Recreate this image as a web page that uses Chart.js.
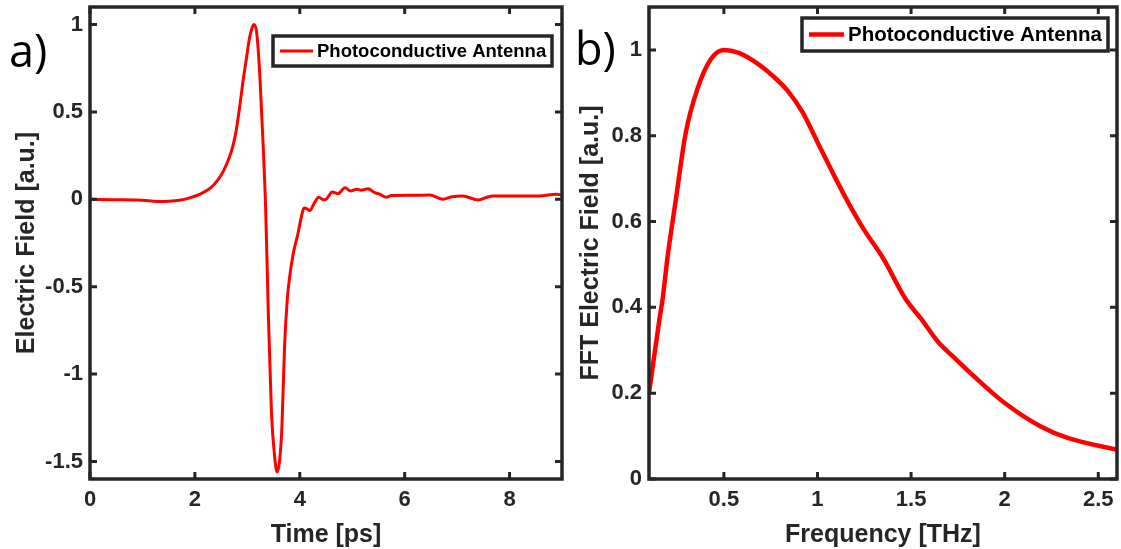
<!DOCTYPE html>
<html>
<head>
<meta charset="utf-8">
<script src="https://cdn.jsdelivr.net/npm/chart.js@4.4.1/dist/chart.umd.min.js"></script>
<style>
  body { margin: 0; background: #fff; width: 1121px; height: 549px; overflow: hidden; position: relative; }
  .panel { position: absolute; top: 0; height: 549px; }
  .tag { position: absolute; font-family: 'Open Sans', sans-serif; font-size: 45px; line-height: 1; color: #000; }
</style>
</head>
<body>
<div class="panel" style="left:0;width:570px"><canvas id="pulse" width="570" height="549"></canvas></div>
<div class="panel" style="left:570px;width:551px"><canvas id="spectrum" width="551" height="549"></canvas></div>
<div class="tag" style="left:9px;top:27px">a)</div>
<div class="tag" style="left:575px;top:25px">b)</div>
<script>
// a) time-domain pulse
const pulseTime = [0, 0.5, 1.0, 1.28, 1.5, 1.7, 1.9, 2.1, 2.3, 2.45, 2.55, 2.65, 2.72, 2.78, 2.85, 2.92, 2.98, 3.04, 3.09, 3.13,
  3.18, 3.24, 3.30, 3.35, 3.40, 3.46, 3.52, 3.57, 3.62, 3.66, 3.71, 3.76, 3.80, 3.87, 3.97, 4.03, 4.08,
  4.14, 4.19, 4.28, 4.36, 4.45, 4.5, 4.62, 4.73, 4.86, 4.97, 5.08, 5.17, 5.30, 5.43, 5.52, 5.65, 5.75,
  6.16, 6.48, 6.73, 6.9, 7.11, 7.4, 7.6, 7.68, 8.06, 8.57, 8.89, 9.0];
const pulseField = [0, -0.002, -0.005, -0.012, -0.011, -0.006, 0.008, 0.03, 0.065, 0.115, 0.165, 0.235, 0.30, 0.38, 0.52, 0.68, 0.80, 0.92, 0.98, 1.0,
  0.95, 0.70, 0.32, -0.06, -0.65, -1.22, -1.47, -1.56, -1.48, -1.30, -0.84, -0.58, -0.46, -0.32, -0.19, -0.10, -0.05,
  -0.055, -0.065, -0.02, 0.012, -0.002, 0, 0.042, 0.032, 0.066, 0.048, 0.058, 0.052, 0.060, 0.038, 0.030, 0.012, 0.022,
  0.023, 0.024, 0, 0.015, 0.019, -0.004, 0.015, 0.019, 0.019, 0.019, 0.029, 0.025];
const pulseTimeTicks = [0, 2, 4, 6, 8];
const pulseFieldTicks = [-1.5, -1, -0.5, 0, 0.5, 1];

// b) spectrum
const specFreq = [0.1, 0.155, 0.173, 0.2, 0.243, 0.296, 0.358, 0.43, 0.5, 0.58, 0.68, 0.76, 0.84, 0.92, 1.0,
  1.08, 1.157, 1.25, 1.35, 1.47, 1.554, 1.647, 1.74, 1.834, 2.0, 2.19, 2.34, 2.6];
const specAmp = [0.2, 0.37, 0.42, 0.52, 0.65, 0.806, 0.908, 0.978, 1.0, 0.993, 0.968, 0.94, 0.905, 0.855, 0.785,
  0.715, 0.65, 0.58, 0.515, 0.42, 0.373, 0.318, 0.279, 0.24, 0.177, 0.123, 0.095, 0.068];
const specFreqTicks = [0.5, 1, 1.5, 2, 2.5];
const specAmpTicks = [0, 0.2, 0.4, 0.6, 0.8, 1];

const seriesLabel = 'Photoconductive Antenna';
const INK = '#262626';
const FONT = "'Liberation Sans', Arial, sans-serif";

// matlab style: closed box, inward ticks on all sides, legend inside the axes
const boxPlugin = {
  id: 'boxAxes',
  afterDatasetsDraw(chart, args, opts) {
    const { ctx, chartArea: a, scales } = chart;
    ctx.save();
    ctx.strokeStyle = INK;
    ctx.lineWidth = 3;
    ctx.lineCap = 'butt';
    const len = 7;
    ctx.beginPath();
    scales.x.ticks.forEach(t => {
      const px = scales.x.getPixelForValue(t.value);
      ctx.moveTo(px, a.bottom); ctx.lineTo(px, a.bottom - len);
      ctx.moveTo(px, a.top); ctx.lineTo(px, a.top + len);
    });
    scales.y.ticks.forEach(t => {
      const py = scales.y.getPixelForValue(t.value);
      ctx.moveTo(a.left, py); ctx.lineTo(a.left + len, py);
      ctx.moveTo(a.right, py); ctx.lineTo(a.right - len, py);
    });
    ctx.stroke();
    ctx.lineWidth = 3.5;
    ctx.strokeRect(a.left, a.top, a.right - a.left, a.bottom - a.top);

    // legend
    const ds = chart.data.datasets[0];
    const L = opts;
    ctx.fillStyle = '#fff';
    ctx.fillRect(L.x, L.y, L.w, L.h);
    ctx.lineWidth = 3.5;
    ctx.strokeRect(L.x, L.y, L.w, L.h);
    const my = L.y + L.h / 2;
    ctx.strokeStyle = ds.borderColor;
    ctx.lineWidth = ds.borderWidth;
    ctx.beginPath();
    ctx.moveTo(L.x + 7, my); ctx.lineTo(L.x + 7 + L.line, my);
    ctx.stroke();
    ctx.fillStyle = '#000';
    ctx.font = `bold ${L.size}px ${FONT}`;
    ctx.textBaseline = 'middle';
    ctx.fillText(ds.label, L.x + 11 + L.line, my + 1);
    ctx.restore();
  }
};

function squeeze(width, height) {
  return s => {
    if (width) s.width = width;
    if (height) s.height = height;
    s.paddingLeft = s.paddingRight = s.paddingTop = s.paddingBottom = 0;
  };
}

function makeChart(id, xs, ys, cfg) {
  return new Chart(document.getElementById(id), {
    type: 'line',
    data: {
      datasets: [{
        label: seriesLabel,
        data: xs.map((x, i) => ({ x, y: ys[i] })),
        borderColor: '#ff0000',
        borderWidth: cfg.lw,
        pointRadius: 0,
        cubicInterpolationMode: 'monotone',
        fill: false,
      }],
    },
    options: {
      responsive: false,
      animation: false,
      layout: { padding: { top: 7, right: cfg.padRight, left: 0, bottom: 0 } },
      plugins: { legend: { display: false }, tooltip: { enabled: false }, boxAxes: cfg.legend },
      scales: {
        x: {
          type: 'linear', min: cfg.xMin, max: cfg.xMax,
          afterBuildTicks: s => { s.ticks = cfg.xTicks.map(v => ({ value: v })); },
          afterFit: squeeze(0, 70),
          grid: { display: false, drawTicks: false },
          border: { display: false },
          ticks: { color: INK, padding: 8, callback: v => String(v),
            font: { family: FONT, size: 22, weight: 'bold' } },
          title: { display: true, text: cfg.xTitle, color: INK, padding: { top: 0, bottom: -1 },
            font: { family: FONT, size: 25, weight: 'bold' } },
        },
        y: {
          min: cfg.yMin, max: cfg.yMax,
          afterBuildTicks: s => { s.ticks = cfg.yTicks.map(v => ({ value: v })); },
          afterFit: squeeze(cfg.yWidth, 0),
          grid: { display: false, drawTicks: false },
          border: { display: false },
          ticks: { color: INK, padding: 7, callback: v => String(v),
            font: { family: FONT, size: 22, weight: 'bold' } },
          title: { display: true, text: cfg.yTitle, color: INK, padding: { top: cfg.yTitlePad, bottom: 0 },
            font: { family: FONT, size: 25, weight: 'bold' } },
        },
      },
    },
    plugins: [boxPlugin],
  });
}

makeChart('pulse', pulseTime, pulseField, {
  lw: 3, padRight: 8, xMin: 0, xMax: 9, yMin: -1.6, yMax: 1.1,
  xTicks: pulseTimeTicks, yTicks: pulseFieldTicks, yWidth: 90, yTitlePad: 12,
  xTitle: 'Time [ps]', yTitle: 'Electric Field [a.u.]',
  legend: { x: 273, y: 36, w: 279, h: 30, line: 33, size: 18.5 },
});

makeChart('spectrum', specFreq, specAmp, {
  lw: 4.5, padRight: 4, xMin: 0.1, xMax: 2.6, yMin: 0, yMax: 1.1,
  xTicks: specFreqTicks, yTicks: specAmpTicks, yWidth: 79, yTitlePad: 6,
  xTitle: 'Frequency [THz]', yTitle: 'FFT Electric Field [a.u.]',
  legend: { x: 232, y: 18, w: 306, h: 33, line: 35, size: 20.5 },
});
</script>
</body>
</html>
